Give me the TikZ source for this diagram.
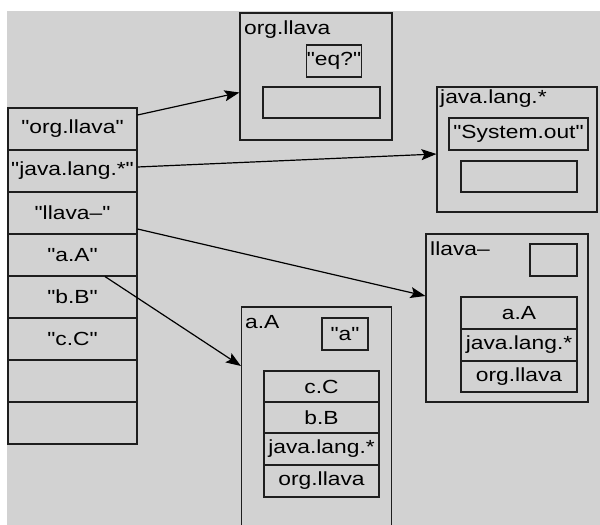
\documentclass[tikz,border=0pt]{standalone}
\usepackage{fontspec}
\setmainfont{Liberation Sans}[FakeStretch=1.2, Ligatures=TeXOff]
\usetikzlibrary{arrows.meta}
\definecolor{bggray}{RGB}{210,210,210}
\definecolor{linecol}{RGB}{30,30,30}
\tikzset{
  cell/.style={draw=linecol, line width=1.1bp, inner sep=0pt, font=\fontsize{19bp}{22bp}\selectfont},
  frame/.style={draw=linecol, line width=1.1bp, inner sep=0pt},
  title/.style={inner sep=0pt, anchor=base west, font=\fontsize{19bp}{22bp}\selectfont},
  link/.style={line width=1.2bp, draw=black, -{Stealth[length=15bp,width=11bp,inset=3bp]}}
}
\begin{document}
\begin{tikzpicture}[x=1bp,y=-1bp]
\useasboundingbox (0,0) rectangle (600,525);
\clip (0,0) rectangle (600,525);
\fill[bggray] (7,11) rectangle (600,525);

% left table
\foreach \i/\t in {1/"org.llava",2/"java.lang.*",3/"llava–",4/"a.A",5/"b.B",6/"c.C",7/,8/}{
  \node[cell, minimum width=129bp, minimum height=42bp] (r\i) at (72.5,{87+42*\i}) {\t};
}

% org.llava box
\node[frame, minimum width=152bp, minimum height=127bp] (org) at (316,76.5) {};
\node[title] (orgt) at (244,35) {org.llava};
\node[cell, minimum width=50bp, minimum height=32bp] (eq) at (334,61) {"eq?"};
\node[cell, minimum width=117bp, minimum height=31bp] (orge) at (321.5,102.5) {};

% java.lang.* box
\node[frame, minimum width=160bp, minimum height=125bp] (java) at (517,149.5) {};
\node[title] (javat) at (440,104) {java.lang.*};
\node[cell, minimum width=139bp, minimum height=32bp] (sys) at (518.5,134) {"System.out"};
\node[cell, minimum width=116bp, minimum height=31bp] (javae) at (519,176.5) {};

% llava– box
\node[frame, minimum width=162bp, minimum height=168bp] (llava) at (507,318) {};
\node[title] (llavat) at (430,255) {llava–};
\node[cell, minimum width=47bp, minimum height=32bp] (llavae) at (553.5,260) {};
\node[cell, minimum width=116bp, minimum height=32bp] (l1) at (519,313) {a.A};
\node[cell, minimum width=116bp, minimum height=32bp] (l2) at (519,345) {java.lang.*};
\node[cell, minimum width=116bp, minimum height=31bp] (l3) at (519,376.5) {org.llava};

% a.A box
\node[frame, minimum width=150bp, minimum height=233bp] (aa) at (316.5,423.5) {};
\node[title] (aat) at (245,328) {a.A};
\node[cell, minimum width=46bp, minimum height=32bp] (ab) at (345,334) {"a"};
\node[cell, minimum width=115bp, minimum height=31bp] (a1) at (321.5,386.5) {c.C};
\node[cell, minimum width=115bp, minimum height=31bp] (a2) at (321.5,417.5) {b.B};
\node[cell, minimum width=115bp, minimum height=32bp] (a3) at (321.5,449) {java.lang.*};
\node[cell, minimum width=115bp, minimum height=32bp] (a4) at (321.5,481) {org.llava};

% connectors
\coordinate (s4) at ([xshift=32.5bp]r4.south);
\draw[link] ([yshift=14bp]r1.east) -- ([yshift=-16bp]org.west);
\draw[link] ([yshift=4bp]r2.east) -- ([yshift=-4.5bp]java.west);
\draw[link] ([yshift=-16bp]r3.east) -- ([yshift=22bp]llava.west);
\draw[link] (s4) -- ([yshift=57.5bp]aa.west);
\end{tikzpicture}
\end{document}
